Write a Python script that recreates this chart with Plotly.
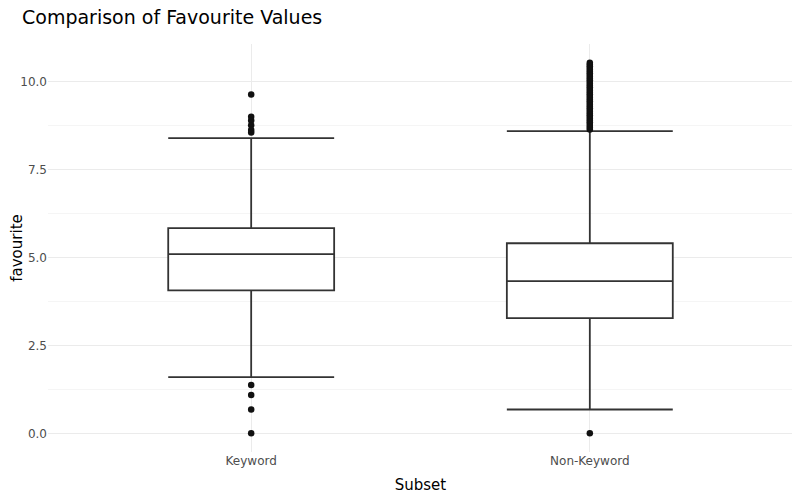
import plotly.graph_objects as go

# summary stats
subsets = ["Keyword", "Non-Keyword"]
q1 = [4.07, 3.28]
median = [5.10, 4.33]
q3 = [5.84, 5.41]
lower_whisker = [1.60, 0.68]
upper_whisker = [8.40, 8.60]

# outliers
kw_outliers = [9.64, 9.01, 8.90, 8.77, 8.63, 8.56, 1.38, 1.09, 0.68, 0.0]
nk_outliers = [8.65, 8.70, 8.75, 8.80, 8.85, 8.90, 8.95, 9.00, 9.05, 9.10,
               9.15, 9.20, 9.25, 9.30, 9.35, 9.40, 9.45, 9.50, 9.55, 9.60,
               9.65, 9.70, 9.75, 9.80, 9.85, 9.90, 9.95, 10.00, 10.05, 10.10,
               10.15, 10.20, 10.25, 10.30, 10.35, 10.40, 10.45, 10.50, 10.55, 0.0]

font = "DejaVu Sans"
fig = go.Figure()

fig.add_trace(go.Box(
    x=subsets, q1=q1, median=median, q3=q3,
    lowerfence=lower_whisker, upperfence=upper_whisker,
    boxpoints=False, whiskerwidth=1, width=0.49,
    fillcolor="white", line=dict(color="#333333", width=1.8),
    showlegend=False, hoverinfo="skip",
))

out_x = [subsets[0]] * len(kw_outliers) + [subsets[1]] * len(nk_outliers)
out_y = kw_outliers + nk_outliers
fig.add_trace(go.Scatter(
    x=out_x, y=out_y, mode="markers",
    marker=dict(color="#111111", size=6.5),
    showlegend=False,
))

# page body has an 8px margin, so the figure is drawn a bit smaller
fig.update_layout(
    width=792, height=486,
    paper_bgcolor="white", plot_bgcolor="white",
    margin=dict(l=40, r=7, t=36, b=42),
    font=dict(family=font, color="#4d4d4d"),
    title=dict(text="Comparison of Favourite Values", x=14/792, xanchor="left",
               xref="container", y=1, yref="container", yanchor="top",
               pad=dict(t=3),
               font=dict(size=19, color="black", family=font)),
)
fig.update_xaxes(
    range=[-0.6, 1.6], showline=False, zeroline=False, automargin=False,
    showgrid=True, gridcolor="#ebebeb", gridwidth=1,
    tickfont=dict(size=12, color="#4d4d4d"), ticks="",
    title=dict(text="Subset", font=dict(size=15, color="black"), standoff=12),
)
fig.update_yaxes(
    range=[-0.53, 11.08], showline=False, zeroline=False, automargin=False,
    tickvals=[0, 2.5, 5, 7.5, 10], ticktext=["0.0", "2.5", "5.0", "7.5", "10.0"],
    showgrid=True, gridcolor="#ebebeb", gridwidth=1,
    minor=dict(tickvals=[1.25, 3.75, 6.25, 8.75], showgrid=True,
               gridcolor="#f5f5f5", gridwidth=0.6),
    tickfont=dict(size=12, color="#4d4d4d"), ticks="",
    title=dict(text="favourite", font=dict(size=15, color="black"), standoff=2),
)

fig.write_html("out.html")
